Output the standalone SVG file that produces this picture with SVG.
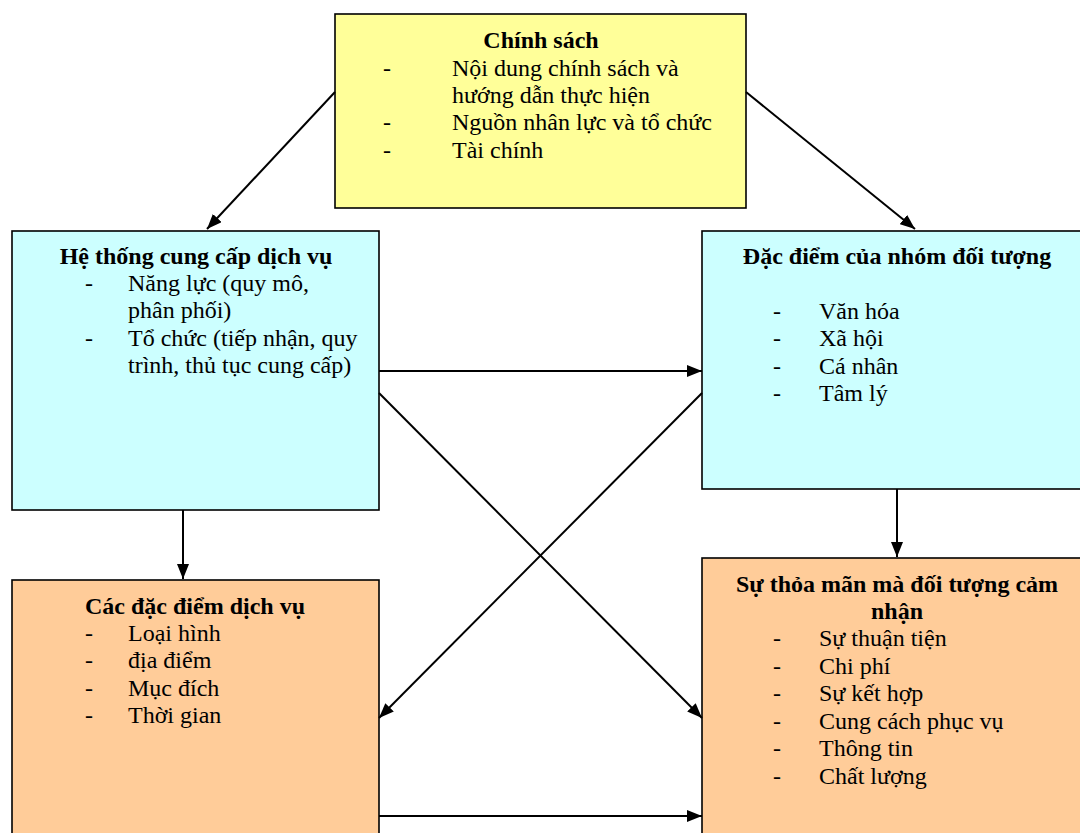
<svg xmlns="http://www.w3.org/2000/svg" width="1080" height="833" viewBox="0 0 1080 833">
  <style>
    .box { stroke: #000; stroke-width: 1.6; }
    .yellow { fill: #FFFF99; }
    .cyan { fill: #CCFFFF; }
    .peach { fill: #FFCC99; }
    text { font-family: "Liberation Serif", "Times New Roman", serif; font-size: 24px; fill: #000; }
    .title { font-weight: bold; text-anchor: middle; }
    .conn { stroke: #000; stroke-width: 2; fill: none; marker-end: url(#arrow); }
  </style>
  <defs>
    <marker id="arrow" viewBox="0 0 15 12" refX="15" refY="6" markerWidth="15" markerHeight="12" markerUnits="userSpaceOnUse" orient="auto">
      <path d="M0,0 L15,6 L0,12 Z" fill="#000"/>
    </marker>
  </defs>
  <rect width="1080" height="833" fill="#fff"/>

  <g id="chinh-sach">
    <rect class="box yellow" x="335" y="14" width="411" height="194"/>
    <text class="title" x="541" y="48">Chính sách</text>
    <text x="383" y="76">-</text><text x="452" y="76">Nội dung chính sách và</text>
    <text x="452" y="103">hướng dẫn thực hiện</text>
    <text x="383" y="130">-</text><text x="452" y="130">Nguồn nhân lực và tổ chức</text>
    <text x="383" y="158">-</text><text x="452" y="158">Tài chính</text>
  </g>

  <g id="he-thong">
    <rect class="box cyan" x="12" y="231" width="367" height="279"/>
    <text class="title" x="196" y="264">Hệ thống cung cấp dịch vụ</text>
    <text x="85" y="291">-</text><text x="128" y="291">Năng lực (quy mô,</text>
    <text x="128" y="318">phân phối)</text>
    <text x="85" y="346">-</text><text x="128" y="346">Tổ chức (tiếp nhận, quy</text>
    <text x="128" y="373">trình, thủ tục cung cấp)</text>
  </g>

  <g id="dac-diem-doi-tuong">
    <rect class="box cyan" x="702" y="231" width="390" height="258"/>
    <text class="title" x="897" y="264">Đặc điểm của nhóm đối tượng</text>
    <text x="773" y="319">-</text><text x="819" y="319">Văn hóa</text>
    <text x="773" y="346">-</text><text x="819" y="346">Xã hội</text>
    <text x="773" y="374">-</text><text x="819" y="374">Cá nhân</text>
    <text x="773" y="401">-</text><text x="819" y="401">Tâm lý</text>
  </g>

  <g id="dac-diem-dich-vu">
    <rect class="box peach" x="12" y="580" width="367" height="270"/>
    <text class="title" x="195" y="614">Các đặc điểm dịch vụ</text>
    <text x="85" y="641">-</text><text x="128" y="641">Loại hình</text>
    <text x="85" y="668">-</text><text x="128" y="668">địa điểm</text>
    <text x="85" y="696">-</text><text x="128" y="696">Mục đích</text>
    <text x="85" y="723">-</text><text x="128" y="723">Thời gian</text>
  </g>

  <g id="su-thoa-man">
    <rect class="box peach" x="702" y="558" width="390" height="290"/>
    <text class="title" x="897" y="592">Sự thỏa mãn mà đối tượng cảm</text>
    <text class="title" x="897" y="619">nhận</text>
    <text x="773" y="646">-</text><text x="819" y="646">Sự thuận tiện</text>
    <text x="773" y="674">-</text><text x="819" y="674">Chi phí</text>
    <text x="773" y="701">-</text><text x="819" y="701">Sự kết hợp</text>
    <text x="773" y="729">-</text><text x="819" y="729">Cung cách phục vụ</text>
    <text x="773" y="756">-</text><text x="819" y="756">Thông tin</text>
    <text x="773" y="784">-</text><text x="819" y="784">Chất lượng</text>
  </g>

  <g id="connectors">
    <line class="conn" x1="335" y1="92" x2="207" y2="229"/>
    <line class="conn" x1="746" y1="92" x2="915" y2="229"/>
    <line class="conn" x1="379" y1="371" x2="702" y2="371"/>
    <line class="conn" x1="379" y1="393" x2="702" y2="718"/>
    <line class="conn" x1="702" y1="393" x2="379" y2="718"/>
    <line class="conn" x1="183" y1="510" x2="183" y2="579"/>
    <line class="conn" x1="897" y1="489" x2="897" y2="557"/>
    <line class="conn" x1="379" y1="816" x2="702" y2="816"/>
  </g>
</svg>
